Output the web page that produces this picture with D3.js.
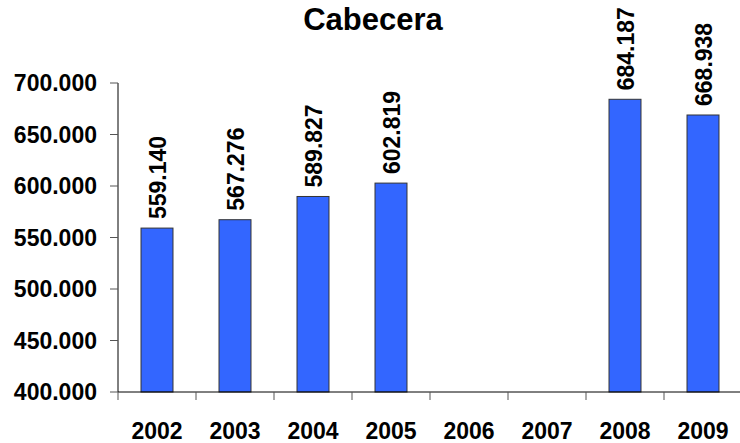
<!DOCTYPE html>
<html>
<head>
<meta charset="utf-8">
<script src="https://cdn.jsdelivr.net/npm/d3@7"></script>
<style>
  html, body { margin: 0; padding: 0; background: #fff; }
  svg { display: block; font-family: "Liberation Sans", Arial, sans-serif; }
</style>
</head>
<body>
<svg id="chart" width="740" height="443"></svg>
<script>
const years = ["2002", "2003", "2004", "2005", "2006", "2007", "2008", "2009"];
const values = [559140, 567276, 589827, 602819, null, null, 684187, 668938];
const yTicks = [400000, 450000, 500000, 550000, 600000, 650000, 700000];
const chartTitle = "Cabecera";

(function () {
const svg = d3.select("#chart");
const pLeft = 118, pRight = 742, pTop = 83, pBottom = 392;

const loc = d3.formatLocale({ decimal: ",", thousands: ".", grouping: [3], currency: ["", ""] });
const fmt = loc.format(",.0f");

const x = d3.scaleBand().domain(years).range([pLeft, pRight]).paddingInner(0.59).paddingOuter(0.295);
const y = d3.scaleLinear().domain([400000, 700000]).range([pBottom, pTop]);
const step = x.step();

// title
svg.append("text")
  .attr("x", 373).attr("y", 29.5)
  .attr("text-anchor", "middle")
  .attr("font-weight", "bold")
  .attr("font-size", 31)
  .text(chartTitle);

// bars
const data = years.map((yr, i) => ({ yr, v: values[i] })).filter(d => d.v != null);
svg.append("g").selectAll("rect").data(data).join("rect")
  .attr("x", d => x(d.yr))
  .attr("y", d => y(d.v))
  .attr("width", x.bandwidth())
  .attr("height", d => y(400000) - y(d.v))
  .attr("fill", "#3366ff")
  .attr("stroke", "#333")
  .attr("stroke-width", 1);

// value labels
svg.append("g").selectAll("text").data(data).join("text")
  .attr("transform", d => `translate(${x(d.yr) + x.bandwidth() / 2 + 8.5},${y(d.v) - 9}) rotate(-90)`)
  .attr("text-anchor", "start")
  .attr("font-weight", "bold")
  .attr("font-size", 23)
  .text(d => fmt(d.v));

// y axis
const gy = svg.append("g");
gy.append("line").attr("x1", pLeft).attr("x2", pLeft).attr("y1", pTop).attr("y2", pBottom).attr("stroke", "#000");
gy.selectAll("line.tick").data(yTicks).join("line").attr("class", "tick")
  .attr("x1", pLeft - 8).attr("x2", pLeft)
  .attr("y1", d => y(d)).attr("y2", d => y(d))
  .attr("stroke", "#555");
gy.selectAll("text").data(yTicks).join("text")
  .attr("x", 97).attr("y", d => y(d))
  .attr("dy", "0.36em")
  .attr("text-anchor", "end")
  .attr("font-weight", "bold")
  .attr("font-size", 23)
  .text(d => fmt(d));

// x axis
const gx = svg.append("g");
gx.append("line").attr("x1", pLeft).attr("x2", pRight).attr("y1", pBottom).attr("y2", pBottom).attr("stroke", "#000");
const tickXs = years.map((yr, i) => pLeft + i * step);
gx.selectAll("line.tick").data(tickXs).join("line").attr("class", "tick")
  .attr("x1", d => d).attr("x2", d => d)
  .attr("y1", pBottom).attr("y2", pBottom + 8)
  .attr("stroke", "#555");
gx.selectAll("text").data(years).join("text")
  .attr("x", d => x(d) + x.bandwidth() / 2)
  .attr("y", 439)
  .attr("text-anchor", "middle")
  .attr("font-weight", "bold")
  .attr("font-size", 23)
  .text(d => d);
})();
</script>
</body>
</html>
